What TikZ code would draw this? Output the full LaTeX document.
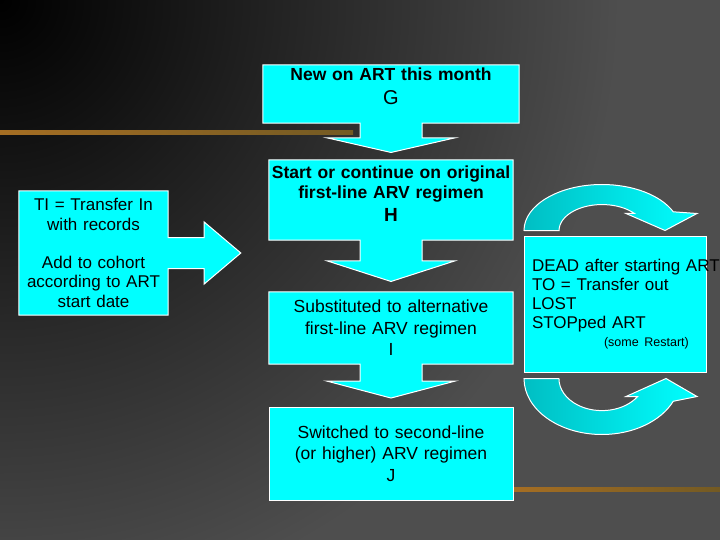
\documentclass[tikz,border=0pt]{standalone}
\usepackage{fontspec}
\setmainfont{Liberation Sans}
\usetikzlibrary{calc, backgrounds}
\definecolor{bggray}{RGB}{78,78,78}
\definecolor{boxcyan}{RGB}{0,255,255}
\definecolor{loopteal}{RGB}{0,190,195}
\definecolor{stripgold}{RGB}{165,110,35}
\definecolor{stripred}{RGB}{125,50,20}
\definecolor{stripolive}{RGB}{115,90,35}
\tikzstyle{calloutbox} = [fill=boxcyan, draw=white, line width=1pt]
\tikzstyle{looparrow} = [left color=loopteal, right color=boxcyan, draw=white, line width=1pt]
\tikzstyle{texturebar} = [left color=stripgold, middle color=stripred, right color=stripolive]

\begin{document}
\begin{tikzpicture}[x=1pt, y=-1pt,
  box/.style={rectangle, align=center, inner xsep=0pt, inner ysep=0pt, font=\fontsize{17.5}{21.5}\selectfont},
  sidebox/.style={rectangle, align=left, inner xsep=8pt, inner ysep=0pt, font=\fontsize{17}{19}\selectfont, fill=boxcyan, draw=white, line width=1pt}]

  \useasboundingbox (0,0) rectangle (720,540);

  \node[box, text width=256, minimum height=58] (G) at (391,94) {\textbf{New on ART this month}\\[2.5pt]{\fontsize{20}{20}\selectfont G}\\[-5.5pt]\mbox{}};
  \node[box, text width=244, minimum height=80, font=\fontsize{17.5}{20}\selectfont\bfseries] (H) at (391,200) {\mbox{Start or continue on original}\\first-line ARV regimen\\[3.5pt]{\fontsize{19}{19}\selectfont H}\\[-7.5pt]\mbox{}};
  \node[box, text width=244, minimum height=72] (I) at (391,328) {Substituted to alternative\\first-line ARV regimen\\I};
  \node[box, text width=244, minimum height=93, fill=boxcyan, draw=white, line width=1pt] (J) at (391,453.5) {Switched to second-line\\(or higher) ARV regimen\\J};

  \node[box, text width=149, minimum height=124, font=\fontsize{17}{19.5}\selectfont] (TI) at (93.5,253) {TI = Transfer In\\with records\\[18.5pt]Add to cohort\\according to ART\\start date};
  \node[sidebox, text width=166, minimum height=136] (OUT) at (615,304) {\mbox{DEAD after starting ART}\\TO = Transfer out\\LOST\\STOPped ART\\[-1pt]\hspace*{72pt}{\fontsize{12.5}{14}\selectfont (some Restart)}};

  \begin{scope}[on background layer]
    % backdrop
    \fill[bggray] (0,0) rectangle (720,540);
    \begin{scope}
      \clip (0,0) rectangle (720,540);
      \shade[inner color=black, outer color=bggray] (0,0) circle[radius=620];
    \end{scope}
    \path[texturebar] (0,130.5) rectangle (353,134.5);
    \path[texturebar] (514,487.5) rectangle (720,491.5);

    % block arrows down the middle
    \foreach \a/\b in {G/H, H/I, I/J}
      \path[calloutbox] (\a.north west) -- (\a.north east) -- (\a.south east)
        -- ($(\a.south)+(31,0)$) -- ($(\a.south)!0.4!(\b.north)+(31,0)$)
        -- ($(\a.south)!0.4!(\b.north)+(64,0)$) -- ($(\a.south)!0.8!(\b.north)$)
        -- ($(\a.south)!0.4!(\b.north)+(-64,0)$) -- ($(\a.south)!0.4!(\b.north)+(-31,0)$)
        -- ($(\a.south)+(-31,0)$) -- (\a.south west) -- cycle;

    % transfer in arrow
    \path[calloutbox] (TI.north west) -- (TI.north east) -- ($(TI.east)+(0,-15.5)$)
      -- ($(TI.east)+(36,-15.5)$) -- ($(TI.east)+(36,-31)$) -- ($(TI.east -| H.west)+(-28,0)$)
      -- ($(TI.east)+(36,31)$) -- ($(TI.east)+(36,15.5)$) -- ($(TI.east)+(0,15.5)$)
      -- (TI.south east) -- (TI.south west) -- cycle;

    % loops round the outcome box
    \coordinate (topc) at ($(OUT.north)+(-13,-5)$);
    \coordinate (botc) at ($(OUT.south)+(-13,6)$);
    \path[looparrow] ($(topc)+(-78,0)$) arc[start angle=180, end angle=336, x radius=78, y radius=46]
      -- ($(topc)+(95,-17)$) -- ($(topc)+(63,0)$) -- ($(topc)+(24,-17)$)
      -- ($(topc)+(32.5,-17)$) arc[start angle=319, end angle=180, x radius=43, y radius=26] -- cycle;
    \path[looparrow] ($(botc)+(-78,0)$) arc[start angle=180, end angle=24, x radius=78, y radius=56]
      -- ($(botc)+(95,18)$) -- ($(botc)+(64,0)$) -- ($(botc)+(24,18)$)
      -- ($(botc)+(35.6,18)$) arc[start angle=34, end angle=180, x radius=43, y radius=32] -- cycle;
  \end{scope}
\end{tikzpicture}
\end{document}
